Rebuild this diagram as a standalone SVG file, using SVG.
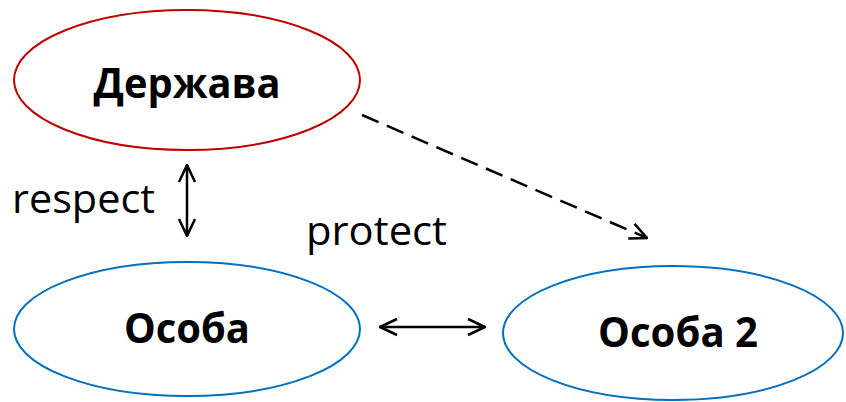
<svg xmlns="http://www.w3.org/2000/svg" width="846" height="402" viewBox="0 0 846 402">
<defs>
<style>
.node{fill:#fff;stroke-width:2}
.red{stroke:#c00000}
.blue{stroke:#0070c0}
.lbl{font-family:"Open Sans","Liberation Sans",sans-serif;font-weight:bold;font-size:41px;fill:#000;text-anchor:middle}
.edge{font-family:"Open Sans","Liberation Sans",sans-serif;font-size:40px;fill:#000}
.conn{stroke:#000;stroke-width:2.5;fill:none}
</style>
<marker id="ah2" viewBox="0 0 20 20" refX="19" refY="10" markerWidth="20" markerHeight="20" markerUnits="userSpaceOnUse" orient="auto-start-reverse">
<path d="M2,2 L19,10 L2,18" fill="none" stroke="#000" stroke-width="2.5"/>
</marker>
</defs>
<rect width="846" height="402" fill="#fff"/>
<g id="derzhava">
<ellipse class="node red" cx="187" cy="80" rx="173" ry="70"/>
<text class="lbl" x="187" y="98" textLength="187" lengthAdjust="spacingAndGlyphs">Держава</text>
</g>
<g id="osoba">
<ellipse class="node blue" cx="187" cy="329" rx="173" ry="67"/>
<text class="lbl" x="187" y="343" textLength="126" lengthAdjust="spacingAndGlyphs">Особа</text>
</g>
<g id="osoba2">
<ellipse class="node blue" cx="673" cy="333" rx="170" ry="67"/>
<text class="lbl" x="678" y="347" textLength="160" lengthAdjust="spacingAndGlyphs">Особа 2</text>
</g>
<g id="connectors">
<line class="conn" x1="187" y1="165" x2="187" y2="236" marker-start="url(#ah2)" marker-end="url(#ah2)"/>
<line class="conn" x1="380" y1="327" x2="485" y2="327" marker-start="url(#ah2)" marker-end="url(#ah2)"/>
<line class="conn" x1="362" y1="115" x2="647" y2="238" stroke-dasharray="18,9" marker-end="url(#ah2)"/>
<text class="edge" x="12" y="213" textLength="143" lengthAdjust="spacingAndGlyphs">respect</text>
<text class="edge" x="306" y="245" textLength="141" lengthAdjust="spacingAndGlyphs">protect</text>
</g>
</svg>
